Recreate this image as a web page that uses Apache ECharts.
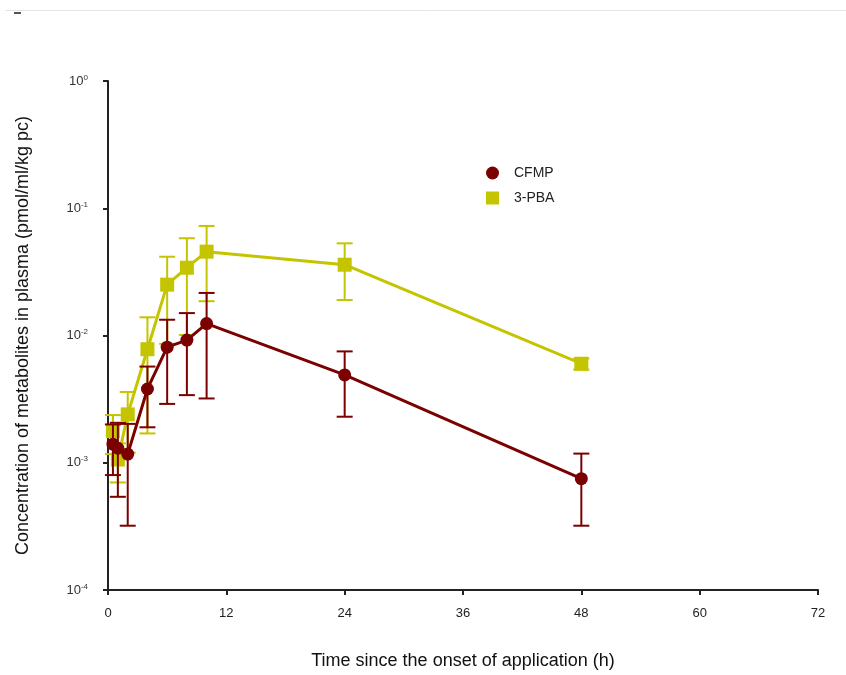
<!DOCTYPE html>
<html>
<head>
<meta charset="utf-8">
<script src="https://cdn.jsdelivr.net/npm/echarts@6/dist/echarts.min.js"></script>
<style>
  html, body { margin: 0; padding: 0; background: #fff; }
  #chart { width: 846px; height: 675px; }
</style>
</head>
<body>
<div id="chart"></div>
<script>
// sampling times (h)
var times = [0.5, 1, 2, 4, 6, 8, 10, 24, 48];
// CFMP mean and SD
var cfmpMean = [0.0014, 0.0013, 0.00117, 0.0038, 0.0081, 0.0092, 0.0124, 0.0049, 0.00075];
var cfmpSd = [0.0006, 0.00076, 0.00085, 0.0019, 0.0052, 0.0058, 0.0092, 0.0026, 0.00043];
// 3-PBA mean and SD
var pbaMean = [0.00177, 0.00106, 0.0024, 0.0078, 0.0251, 0.0341, 0.0456, 0.036, 0.006];
var pbaSd = [0.0006, 0.00036, 0.0012, 0.0061, 0.0165, 0.024, 0.027, 0.017, 0.0006];
var xTicks = [0, 12, 24, 36, 48, 60, 72];

var red = '#7b0000';
var yellow = '#c4c400';

function pts(mean) {
    var out = [];
    for (var i = 0; i < times.length; i++) out.push([times[i], mean[i]]);
    return out;
}
function bars(mean, sd) {
    var out = [];
    for (var i = 0; i < times.length; i++) out.push([times[i], mean[i] - sd[i], mean[i] + sd[i]]);
    return out;
}

function errRender(color) {
    return function (params, api) {
        var lo = api.coord([api.value(0), api.value(1)]);
        var hi = api.coord([api.value(0), api.value(2)]);
        var w = 8;
        var st = { stroke: color, lineWidth: 2 };
        return {
            type: 'group',
            children: [
                { type: 'line', shape: { x1: lo[0], y1: lo[1], x2: hi[0], y2: hi[1] }, style: st },
                { type: 'line', shape: { x1: lo[0] - w, y1: lo[1], x2: lo[0] + w, y2: lo[1] }, style: st },
                { type: 'line', shape: { x1: hi[0] - w, y1: hi[1], x2: hi[0] + w, y2: hi[1] }, style: st }
            ]
        };
    };
}

var chart = echarts.init(document.getElementById('chart'));

var option = {
    animation: false,
    backgroundColor: '#fff',
    grid: { left: 108, right: 28, top: 81, bottom: 84 },
    graphic: [
        { type: 'line', shape: { x1: 5, y1: 10.5, x2: 846, y2: 10.5 }, style: { stroke: '#e4e4e4', lineWidth: 1 } },
        { type: 'line', shape: { x1: 14, y1: 13, x2: 21, y2: 13 }, style: { stroke: '#555', lineWidth: 2 } }
    ],
    legend: {
        orient: 'vertical',
        left: 481,
        top: 161,
        itemWidth: 13,
        itemHeight: 13,
        itemGap: 11,
        textStyle: { fontFamily: 'Liberation Sans', fontSize: 14, color: '#222', padding: [0, 0, 0, 10] },
        data: [
            { name: 'CFMP', icon: 'circle' },
            { name: '3-PBA', icon: 'rect' }
        ]
    },
    xAxis: {
        type: 'value',
        min: 0,
        max: 72,
        interval: 12,
        name: 'Time since the onset of application (h)',
        nameLocation: 'middle',
        nameGap: 62,
        nameTextStyle: { fontFamily: 'Liberation Sans', fontSize: 18, color: '#111' },
        axisLine: { lineStyle: { color: '#222', width: 2 } },
        axisTick: { length: 5, lineStyle: { color: '#222', width: 2 } },
        axisLabel: {
            margin: 17, fontFamily: 'Liberation Sans', fontSize: 13, color: '#222',
            formatter: function (v) { return xTicks.indexOf(v) >= 0 ? String(v) : ''; }
        },
        splitLine: { show: false }
    },
    yAxis: {
        type: 'log',
        logBase: 10,
        min: 0.0001,
        max: 1,
        name: 'Concentration of metabolites in plasma (pmol/ml/kg pc)',
        nameLocation: 'middle',
        nameGap: 76,
        nameTextStyle: { fontFamily: 'Liberation Sans', fontSize: 18, color: '#111' },
        axisLine: { show: true, lineStyle: { color: '#222', width: 2 } },
        axisTick: { show: true, length: 5, lineStyle: { color: '#222', width: 2 } },
        minorTick: { show: false },
        splitLine: { show: false },
        axisLabel: {
            margin: 20,
            formatter: function (v) {
                var e = Math.round(Math.log10(v));
                return '{b|10}{s|' + e + '}';
            },
            rich: {
                b: { fontFamily: 'Liberation Sans', fontSize: 13, color: '#333' },
                s: { fontFamily: 'Liberation Sans', fontSize: 8, color: '#333', verticalAlign: 'top', padding: [0, 0, 7, 0] }
            }
        }
    },
    series: [
        {
            name: '3-PBA',
            type: 'line',
            data: pts(pbaMean),
            symbol: 'rect',
            symbolSize: 14,
            z: 3,
            itemStyle: { color: yellow },
            lineStyle: { color: yellow, width: 3 }
        },
        {
            name: '3-PBA err',
            type: 'custom',
            data: bars(pbaMean, pbaSd),
            renderItem: errRender(yellow),
            z: 2
        },
        {
            name: 'CFMP',
            type: 'line',
            data: pts(cfmpMean),
            symbol: 'circle',
            symbolSize: 13,
            z: 5,
            itemStyle: { color: red },
            lineStyle: { color: red, width: 3 }
        },
        {
            name: 'CFMP err',
            type: 'custom',
            data: bars(cfmpMean, cfmpSd),
            renderItem: errRender(red),
            z: 4
        }
    ]
};

chart.setOption(option);
</script>
</body>
</html>
